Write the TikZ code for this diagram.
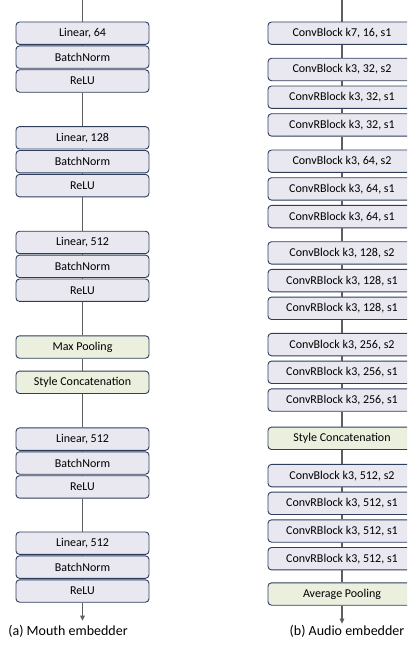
\documentclass[tikz,border=0pt]{standalone}
\usepackage{fontspec}
\setmainfont{Carlito}
\usepackage{xcolor}
\usepackage{tikz}
\usetikzlibrary{positioning, arrows.meta}
\definecolor{boxfill}{HTML}{E9E8F1}
\definecolor{boxline}{HTML}{2F3E5C}
\definecolor{poolfill}{HTML}{EBF0DE}
\definecolor{wire}{HTML}{5E5E5E}
\tikzstyle{block} = [rectangle, minimum height=22.4pt, inner sep=0pt, text centered, draw=boxline, line width=0.9pt, fill=boxfill, rounded corners=3.5pt, font=\fontsize{12}{14}\selectfont]
\tikzstyle{mblock} = [block, minimum width=133pt]
\tikzstyle{ablock} = [block, minimum width=148pt]
\tikzstyle{pool} = [fill=poolfill]
\tikzstyle{line} = [draw=wire, line width=1.4pt]
\tikzstyle{arrow} = [line, -{Triangle[length=5pt, width=4.5pt]}]
\tikzstyle{caption} = [font=\fontsize{14}{16}\selectfont]

\begin{document}
\begin{tikzpicture}[x=1pt, y=1pt]
    \useasboundingbox (0,0) rectangle (407,-661);
    \clip (0,0) rectangle (407,-661);

    % Mouth embedder
    \coordinate (mtop) at (82.5,0);
    \node (lin1) [mblock] at (82.5,-33.2) {Linear, 64};
    \node (bn1) [mblock, below=0.6pt of lin1] {BatchNorm};
    \node (relu1) [mblock, below=0.6pt of bn1] {ReLU};
    \node (lin2) [mblock, below=33.5pt of relu1] {Linear, 128};
    \node (bn2) [mblock, below=0.6pt of lin2] {BatchNorm};
    \node (relu2) [mblock, below=0.6pt of bn2] {ReLU};
    \node (lin3) [mblock, below=33.5pt of relu2] {Linear, 512};
    \node (bn3) [mblock, below=0.6pt of lin3] {BatchNorm};
    \node (relu3) [mblock, below=0.6pt of bn3] {ReLU};
    \node (mpool) [mblock, pool, below=33.5pt of relu3] {Max Pooling};
    \node (mcat) [mblock, pool, below=12pt of mpool] {Style Concatenation};
    \node (lin4) [mblock, below=33.5pt of mcat] {Linear, 512};
    \node (bn4) [mblock, below=0.6pt of lin4] {BatchNorm};
    \node (relu4) [mblock, below=0.6pt of bn4] {ReLU};
    \node (lin5) [mblock, below=33pt of relu4] {Linear, 512};
    \node (bn5) [mblock, below=0.6pt of lin5] {BatchNorm};
    \node (relu5) [mblock, below=0.6pt of bn5] {ReLU};
    \coordinate (mend) at ([yshift=-18pt]relu5.south);

    % Audio embedder
    \coordinate (atop) at (342,0);
    \node (cb1) [ablock] at (342,-33.2) {ConvBlock k7, 16, s1};
    \node (cb2) [ablock, below=13pt of cb1] {ConvBlock k3, 32, s2};
    \node (rb2a) [ablock, below=4.4pt of cb2] {ConvRBlock k3, 32, s1};
    \node (rb2b) [ablock, below=4.4pt of rb2a] {ConvRBlock k3, 32, s1};
    \node (cb3) [ablock, below=13pt of rb2b] {ConvBlock k3, 64, s2};
    \node (rb3a) [ablock, below=4.4pt of cb3] {ConvRBlock k3, 64, s1};
    \node (rb3b) [ablock, below=4.4pt of rb3a] {ConvRBlock k3, 64, s1};
    \node (cb4) [ablock, below=13pt of rb3b] {ConvBlock k3, 128, s2};
    \node (rb4a) [ablock, below=4.4pt of cb4] {ConvRBlock k3, 128, s1};
    \node (rb4b) [ablock, below=4.4pt of rb4a] {ConvRBlock k3, 128, s1};
    \node (cb5) [ablock, below=13pt of rb4b] {ConvBlock k3, 256, s2};
    \node (rb5a) [ablock, below=4.4pt of cb5] {ConvRBlock k3, 256, s1};
    \node (rb5b) [ablock, below=4.4pt of rb5a] {ConvRBlock k3, 256, s1};
    \node (acat) [ablock, pool, below=15pt of rb5b] {Style Concatenation};
    \node (cb6) [ablock, below=14pt of acat] {ConvBlock k3, 512, s2};
    \node (rb6a) [ablock, below=4.4pt of cb6] {ConvRBlock k3, 512, s1};
    \node (rb6b) [ablock, below=4.4pt of rb6a] {ConvRBlock k3, 512, s1};
    \node (rb6c) [ablock, below=4.4pt of rb6b] {ConvRBlock k3, 512, s1};
    \node (apool) [ablock, pool, below=12pt of rb6c] {Average Pooling};
    \coordinate (aend) at ([yshift=-18pt]apool.south);

    % Wires
    \foreach \a/\b in {mtop/lin1, lin1/bn1, bn1/relu1, relu1/lin2, lin2/bn2, bn2/relu2,
        relu2/lin3, lin3/bn3, bn3/relu3, relu3/mpool, mpool/mcat, mcat/lin4,
        lin4/bn4, bn4/relu4, relu4/lin5, lin5/bn5, bn5/relu5}
        \draw [line] (\a) -- (\b);
    \foreach \a/\b in {atop/cb1, cb1/cb2, cb2/rb2a, rb2a/rb2b, rb2b/cb3, cb3/rb3a, rb3a/rb3b,
        rb3b/cb4, cb4/rb4a, rb4a/rb4b, rb4b/cb5, cb5/rb5a, rb5a/rb5b, rb5b/acat,
        acat/cb6, cb6/rb6a, rb6a/rb6b, rb6b/rb6c, rb6c/apool}
        \draw [line] (\a) -- (\b);
    \draw [arrow] (relu5) -- (mend);
    \draw [arrow] (apool) -- (aend);

    % Captions
    \node (mcap) [caption] at (68,-631) {(a) Mouth embedder};
    \node (acap) [caption] at (347,-631) {(b) Audio embedder};
\end{tikzpicture}
\end{document}
